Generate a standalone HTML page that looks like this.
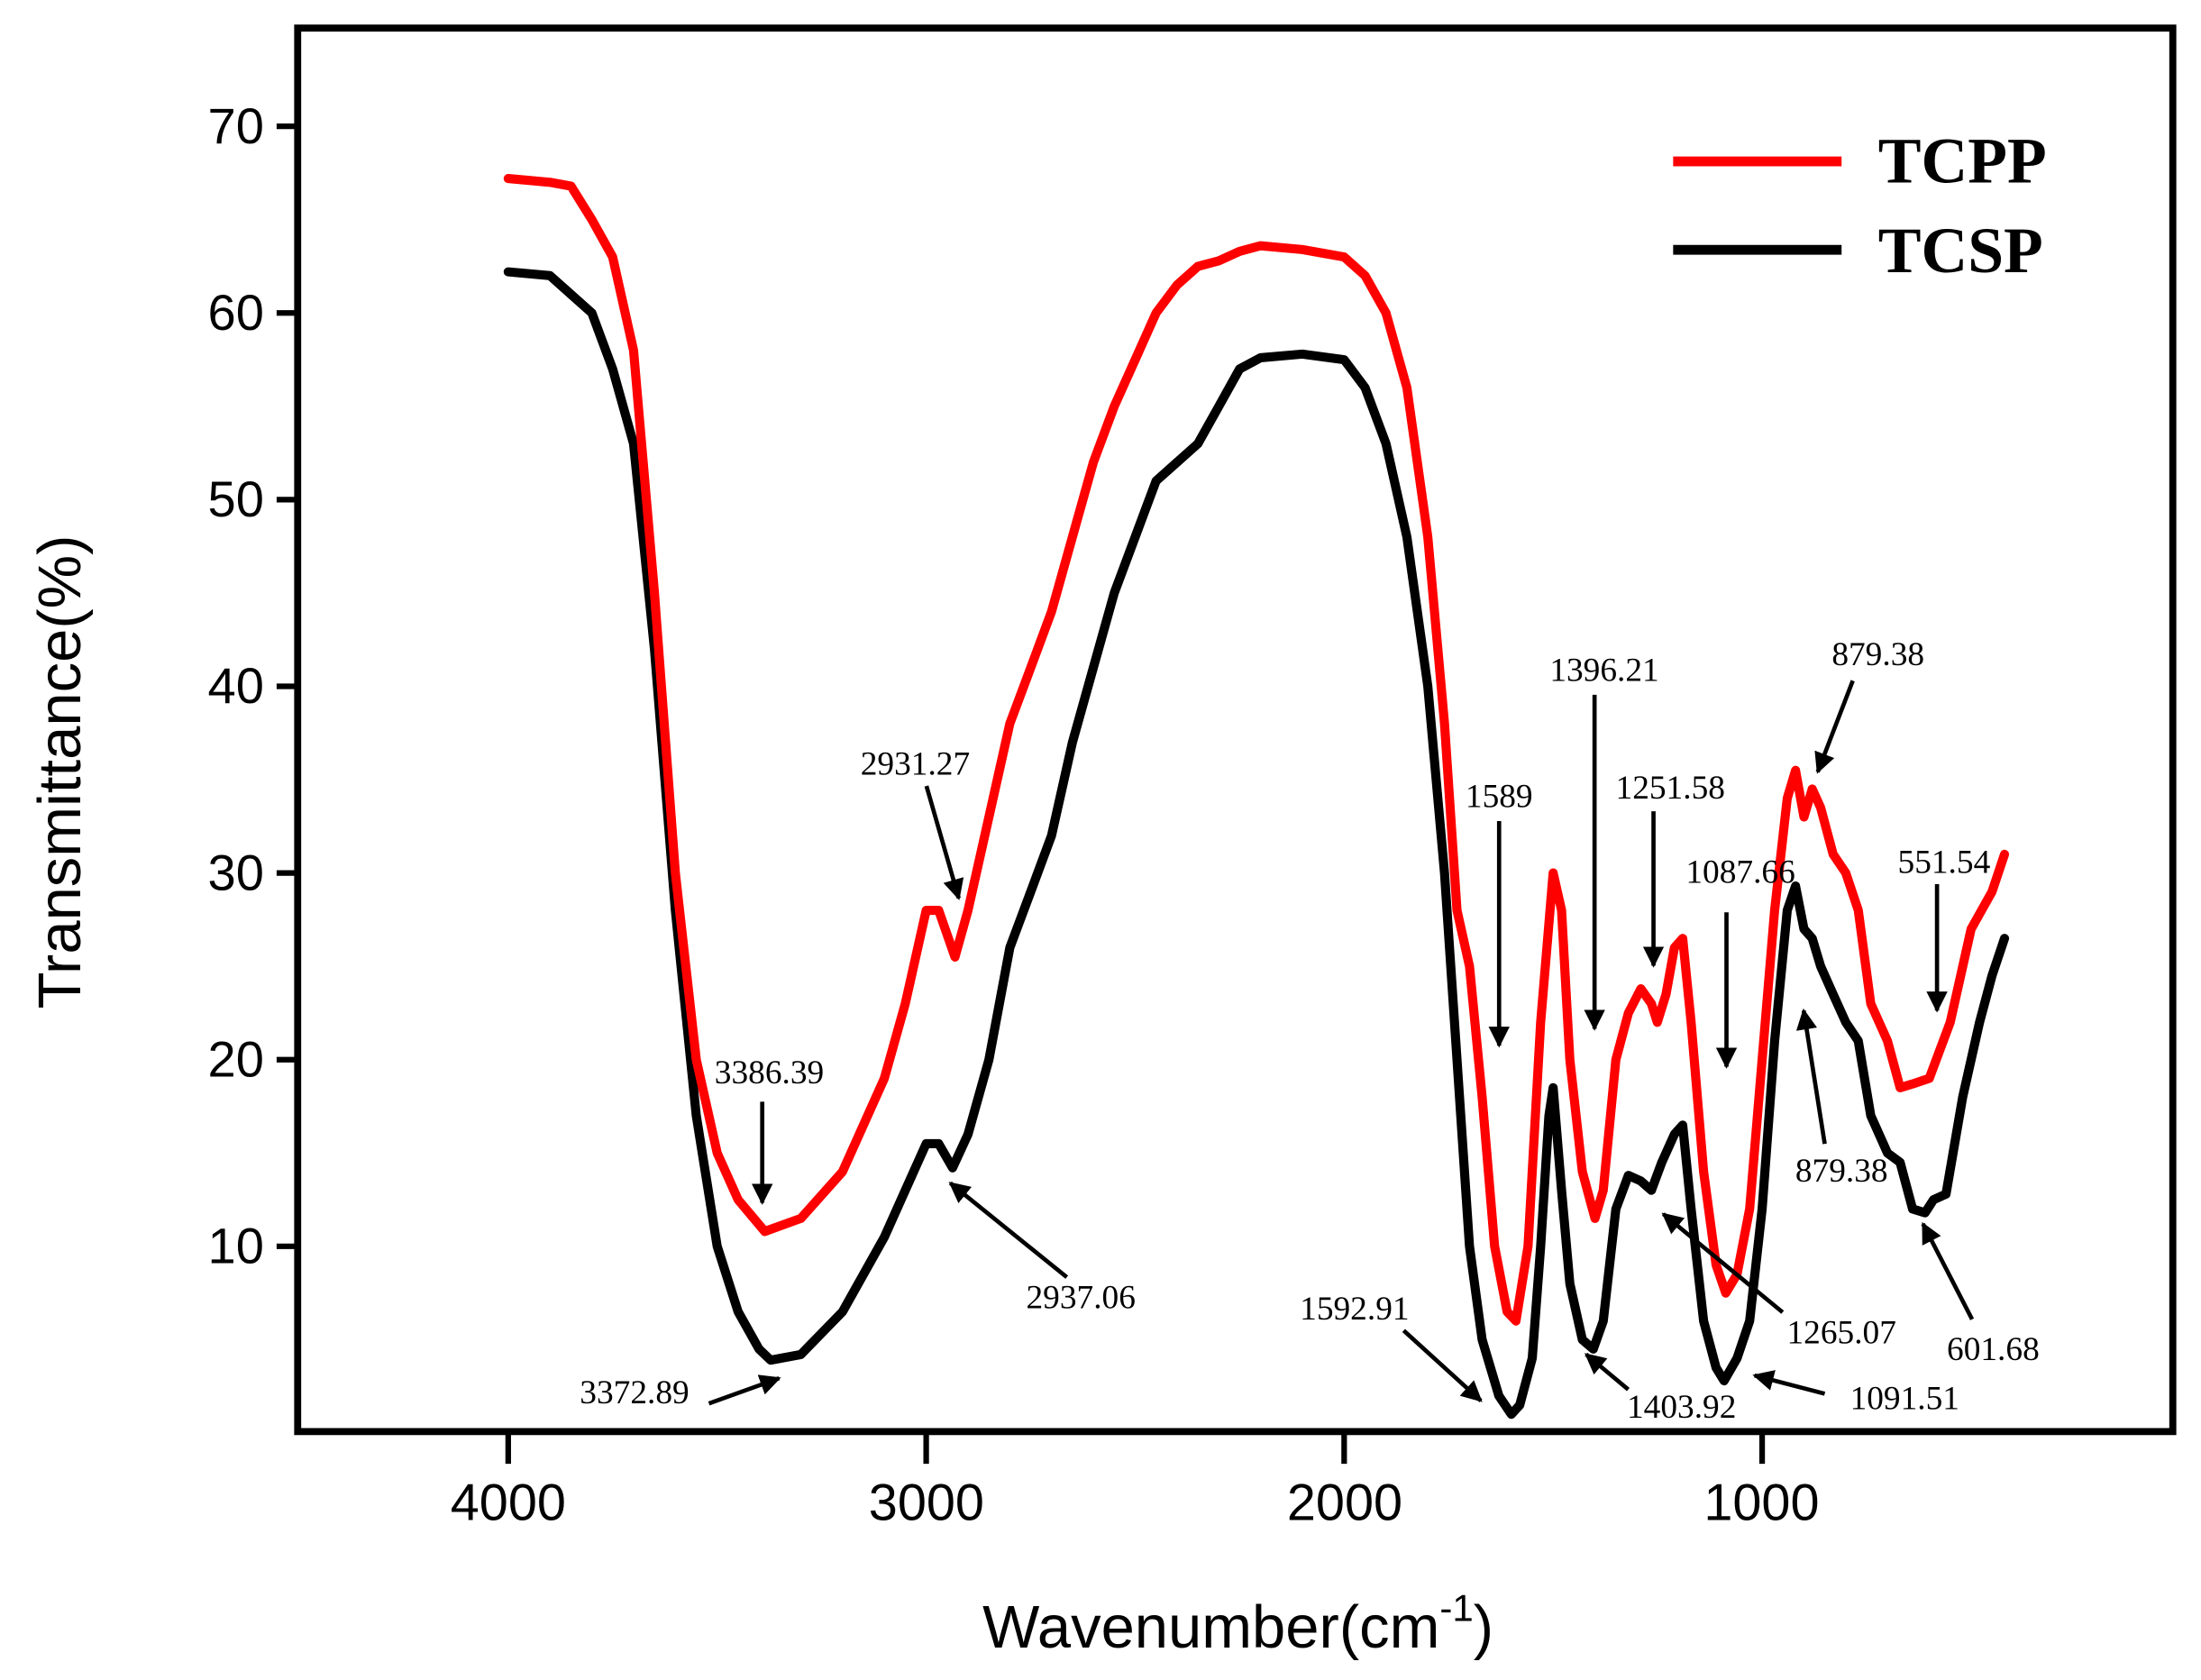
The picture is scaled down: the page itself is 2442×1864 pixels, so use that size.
<!DOCTYPE html>
<html><head><meta charset="utf-8"><style>html,body{margin:0;padding:0;background:#fff}svg{display:block}</style></head>
<body>
<svg id="s" width="2442" height="1864" viewBox="0 0 1568 1197" xmlns="http://www.w3.org/2000/svg">
<rect width="1568" height="1197" fill="#fff"/>
<g id="curves"></g>
<rect x="212" y="20" width="1336" height="1000" fill="none" stroke="#000" stroke-width="5"/>
<g stroke="#000" stroke-width="4" id="ticks"></g>
<g font-family="Liberation Sans, sans-serif" font-size="36" fill="#000" text-anchor="end">
<text x="188" y="102">70</text><text x="188" y="235">60</text><text x="188" y="368">50</text>
<text x="188" y="501">40</text><text x="188" y="634">30</text><text x="188" y="767">20</text><text x="188" y="900">10</text>
</g>
<g font-family="Liberation Sans, sans-serif" font-size="37" fill="#000" text-anchor="middle">
<text x="362" y="1083">4000</text><text x="660" y="1083">3000</text><text x="958" y="1083">2000</text><text x="1255" y="1083">1000</text>
</g>
<text font-family="Liberation Sans, sans-serif" font-size="43" text-anchor="middle" transform="translate(57,550) rotate(-90)">Transmittance(%)</text>
<text font-family="Liberation Sans, sans-serif" font-size="43" x="882" y="1174" text-anchor="middle">Wavenumber(cm<tspan font-size="27" dy="-19">-1</tspan><tspan dy="19">)</tspan></text>
<line x1="1192" y1="115" x2="1312" y2="115" stroke="#f00" stroke-width="7"/>
<line x1="1192" y1="178" x2="1312" y2="178" stroke="#000" stroke-width="7"/>
<g font-family="Liberation Serif, serif" font-weight="bold" font-size="46">
<text x="1338" y="130">TCPP</text><text x="1338" y="194">TCSP</text></g>
<defs><marker id="a" viewBox="0 0 10 10" refX="9" refY="5" markerWidth="5" markerHeight="5" orient="auto"><path d="M0,0 L10,5 L0,10z" fill="#000"/></marker></defs>
<g stroke="#000" stroke-width="3" marker-end="url(#a)">
<line x1="543" y1="785" x2="543" y2="857"/><line x1="505" y1="1000" x2="555" y2="982"/>
<line x1="660" y1="560" x2="683" y2="640"/><line x1="760" y1="910" x2="677" y2="843"/>
<line x1="1068" y1="585" x2="1068" y2="745"/><line x1="1000" y1="948" x2="1055" y2="998"/>
<line x1="1136" y1="495" x2="1136" y2="733"/><line x1="1160" y1="990" x2="1130" y2="965"/>
<line x1="1178" y1="578" x2="1178" y2="688"/><line x1="1230" y1="650" x2="1230" y2="760"/>
<line x1="1270" y1="935" x2="1185" y2="865"/><line x1="1300" y1="993" x2="1250" y2="980"/>
<line x1="1320" y1="485" x2="1295" y2="550"/><line x1="1300" y1="815" x2="1285" y2="720"/>
<line x1="1380" y1="630" x2="1380" y2="720"/><line x1="1405" y1="940" x2="1370" y2="872"/>
</g>
<g font-family="Liberation Serif, serif" font-size="24" text-anchor="middle">
<text x="548" y="772">3386.39</text><text x="452" y="1000">3372.89</text>
<text x="652" y="552">2931.27</text><text x="770" y="932">2937.06</text>
<text x="1068" y="575">1589</text><text x="965" y="940">1592.91</text>
<text x="1143" y="485">1396.21</text><text x="1198" y="1010">1403.92</text>
<text x="1190" y="569">1251.58</text><text x="1240" y="629">1087.66</text>
<text x="1312" y="957">1265.07</text><text x="1357" y="1004">1091.51</text>
<text x="1338" y="474">879.38</text><text x="1312" y="842">879.38</text>
<text x="1385" y="622">551.54</text><text x="1420" y="969">601.68</text>
</g>
</svg>
<script>
const X=w=>362+(4000-w)*0.2978, Y=v=>90+(70-v)*13.3;
const red=[4000,67.2,3900,67,3850,66.8,3800,65,3750,63,3700,58,3650,45,3600,30,3550,20,3500,15,3450,12.5,3386,10.8,3300,11.5,3200,14,3100,19,3050,23,3000,28,2970,28,2931,25.5,2900,28,2850,33,2800,38,2750,41,2700,44,2650,48,2600,52,2550,55,2500,57.5,2450,60,2400,61.5,2350,62.5,2300,62.8,2250,63.3,2200,63.6,2100,63.4,2000,63,1950,62,1900,60,1850,56,1800,48,1760,38,1730,28,1700,25,1670,18,1640,10,1610,6.5,1589,6,1560,10,1530,22,1500,30,1480,28,1460,20,1430,14,1400,11.5,1380,13,1350,20,1320,22.5,1290,23.8,1265,23,1251,22,1230,23.5,1210,26,1190,26.5,1170,22,1140,14,1110,9,1087,7.5,1060,8.5,1030,12,1000,20,970,28,940,34,920,35.5,900,33,880,34.5,860,33.5,830,31,800,30,770,28,740,23,700,21,670,18.5,640,18.7,600,19,550,22,500,27,450,29,420,31];
const blk=[4000,62.2,3900,62,3850,61,3800,60,3750,57,3700,53,3650,42,3600,28,3550,17,3500,10,3450,6.5,3400,4.5,3372,3.9,3300,4.2,3200,6.5,3100,10.5,3050,13,3000,15.5,2970,15.5,2937,14.2,2900,16,2850,20,2800,26,2750,29,2700,32,2650,37,2600,41,2550,45,2500,48,2450,51,2400,52,2350,53,2300,55,2250,57,2200,57.6,2100,57.8,2000,57.5,1950,56,1900,53,1850,48,1800,40,1760,30,1730,20,1700,10,1670,5,1630,2,1600,1,1580,1.5,1550,4,1530,10,1510,17,1500,18.5,1480,13,1460,8,1430,5,1404,4.5,1380,6,1350,12,1320,13.8,1290,13.5,1265,13,1240,14.5,1210,16,1190,16.5,1170,12,1140,6,1110,3.5,1091,2.8,1060,4,1030,6,1000,12,970,21,940,28,920,29.3,900,27,880,26.5,860,25,830,23.5,800,22,770,21,740,17,700,15,670,14.5,640,12,610,11.8,590,12.5,560,12.8,520,18,480,22,450,24.5,420,26.5];
function path(a){let d='';for(let i=0;i<a.length;i+=2)d+=(i?'L':'M')+X(a[i]).toFixed(1)+','+Y(a[i+1]).toFixed(1);return d;}
const ns='http://www.w3.org/2000/svg',g=document.getElementById('curves');
[[blk,'#000'],[red,'#f00']].forEach(([a,c])=>{const p=document.createElementNS(ns,'path');p.setAttribute('d',path(a));p.setAttribute('fill','none');p.setAttribute('stroke',c);p.setAttribute('stroke-width','6.5');p.setAttribute('stroke-linejoin','round');p.setAttribute('stroke-linecap','round');g.appendChild(p);});
const t=document.getElementById('ticks');
for(let v=10;v<=70;v+=10){const l=document.createElementNS(ns,'line');l.setAttribute('x1',197);l.setAttribute('x2',212);l.setAttribute('y1',Y(v));l.setAttribute('y2',Y(v));t.appendChild(l);}
for(let w=1000;w<=4000;w+=1000){const l=document.createElementNS(ns,'line');l.setAttribute('x1',X(w));l.setAttribute('x2',X(w));l.setAttribute('y1',1020);l.setAttribute('y2',1043);t.appendChild(l);}
</script>
</body></html>
